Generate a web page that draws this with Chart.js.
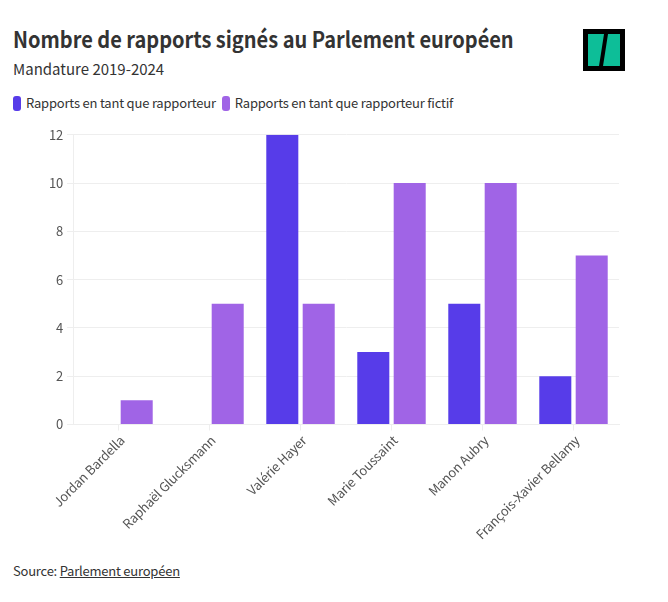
<!DOCTYPE html>
<html lang="fr">
<head>
<meta charset="utf-8">
<title>Nombre de rapports signés au Parlement européen</title>
<script src="https://cdn.jsdelivr.net/npm/chart.js@4"></script>
<style>
body { margin:0; background:#fff; width:668px; height:602px; position:relative; overflow:hidden;
  font-family:"Noto Sans CJK SC","Noto Sans",sans-serif; color:#333; }
h1 { position:absolute; left:13px; top:23px; margin:0; font-size:22px; line-height:30px; font-weight:700; white-space:nowrap; transform:scaleX(0.909); transform-origin:left center; }
#sub { position:absolute; left:13px; top:58px; font-size:15px; line-height:22px; }
#legend { position:absolute; left:13px; top:93px; font-size:13px; line-height:20px; display:flex; letter-spacing:-0.2px; }
#legend span.item { display:flex; align-items:center; margin-right:6px; }
#legend i { display:inline-block; width:8px; height:15px; border-radius:3px; margin-right:5px; }
#logo { position:absolute; left:583px; top:29px; }
#wrap { position:absolute; left:0; top:123px; }
#source { position:absolute; left:13px; top:561px; font-size:13px; line-height:20px; letter-spacing:-0.22px; }
#source a { color:#333; text-decoration:underline; }
</style>
</head>
<body>
<h1>Nombre de rapports signés au Parlement européen</h1>
<div id="sub">Mandature 2019-2024</div>
<div id="legend"></div>
<svg id="logo" width="42" height="42" viewBox="0 0 42 42">
  <rect width="42" height="42" fill="#000"/>
  <polygon points="5,5 21,5 16,37 5,37" fill="#0dbe98"/>
  <polygon points="25,5 37,5 37,37 20,37" fill="#0dbe98"/>
</svg>
<div id="wrap"><canvas id="chart" width="668" height="420"></canvas></div>
<div id="source">Source: <a href="#">Parlement européen</a></div>

<script>
// Données
const deputes = [
    "Jordan Bardella",
    "Raphaël Glucksmann",
    "Valérie Hayer",
    "Marie Toussaint",
    "Manon Aubry",
    "François-Xavier Bellamy"
];
const rapporteur = [0, 0, 12, 3, 5, 2];
const rapporteurFictif = [1, 5, 5, 10, 10, 7];

const nomRapporteur = "Rapports en tant que rapporteur";
const nomFictif = "Rapports en tant que rapporteur fictif";
const bleu = "#573ce9";
const violet = "#a064e6";

// Légende
document.getElementById("legend").innerHTML =
    [[nomRapporteur, bleu], [nomFictif, violet]].map(function (d) {
        return '<span class="item"><i style="background:' + d[1] + '"></i>' + d[0] + '</span>';
    }).join("");

const fonte = '"Noto Sans CJK SC","Noto Sans",sans-serif';

new Chart(document.getElementById("chart"), {
    type: "bar",
    data: {
        labels: deputes,
        datasets: [
            { label: nomRapporteur, data: rapporteur, backgroundColor: bleu },
            { label: nomFictif, data: rapporteurFictif, backgroundColor: violet }
        ]
    },
    plugins: [{
        id: "serre",
        beforeDraw: function (chart) { chart.ctx.letterSpacing = "-0.2px"; }
    }],
    options: {
        responsive: false,
        animation: false,
        layout: { padding: { top: 8.5, right: 49, left: 0, bottom: 0 } },
        datasets: { bar: { categoryPercentage: 0.8, barPercentage: 0.88 } },
        plugins: { legend: { display: false }, tooltip: { enabled: false } },
        scales: {
            x: {
                afterFit: function (s) { s.height = 118.5; },
                grid: { color: "#eeeeee", drawOnChartArea: false, tickLength: 6, offset: false },
                border: { color: "#eeeeee" },
                ticks: {
                    color: "#555555",
                    font: { family: fonte, size: 13 },
                    maxRotation: 45,
                    minRotation: 45,
                    autoSkip: false,
                    padding: 2,
                    labelOffset: 3.5
                }
            },
            y: {
                min: 0,
                max: 12,
                afterFit: function (s) { s.width = 73; },
                grid: { color: "#eeeeee", tickLength: 6 },
                border: { color: "#eeeeee" },
                ticks: {
                    stepSize: 2,
                    color: "#555555",
                    font: { family: fonte, size: 13 },
                    padding: 4
                }
            }
        }
    }
});
</script>
</body>
</html>
